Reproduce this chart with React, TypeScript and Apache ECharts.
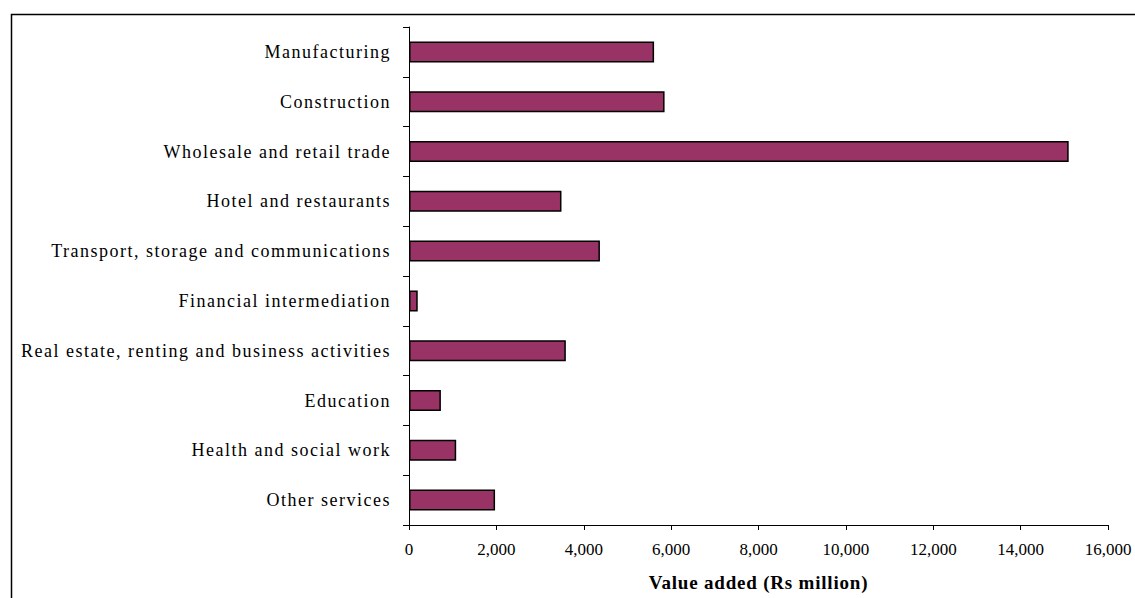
import React, { useEffect, useRef } from "react";
import * as echarts from "echarts";

// Value added by industry, Rs million
const categories = [
  "Manufacturing",
  "Construction",
  "Wholesale and retail trade",
  "Hotel and restaurants",
  "Transport, storage and communications",
  "Financial intermediation",
  "Real estate, renting and business activities",
  "Education",
  "Health and social work",
  "Other services",
];
const valueAdded = [5610, 5850, 15100, 3490, 4370, 200, 3590, 730, 1080, 1970];
const axisMin = 0;
const axisMax = 16000;
const axisStep = 2000;
const axisTitle = "Value added (Rs million)";

const SERIF = '"Liberation Serif", "Times New Roman", serif';

// Wider tracking for the industry names and the axis title
const chartCss = `
.va-chart text[text-anchor="end"] { letter-spacing: 1.5px; }
.va-chart text[style*="bold"] { letter-spacing: 0.8px; }
`;

export default function App() {
  const ref = useRef<HTMLDivElement>(null);

  useEffect(() => {
    if (!ref.current) return;
    const chart = echarts.init(ref.current, undefined, { renderer: "svg" });
    chart.setOption({
      animation: false,
      backgroundColor: "#ffffff",
      textStyle: { fontFamily: SERIF, color: "#000" },
      grid: { left: 409, right: 27, top: 27, bottom: 73, containLabel: false },
      xAxis: {
        type: "value",
        min: axisMin,
        max: axisMax,
        interval: axisStep,
        name: axisTitle,
        nameLocation: "middle",
        nameGap: 48,
        nameTextStyle: { fontFamily: SERIF, fontSize: 19, fontWeight: "bold", color: "#000" },
        axisLine: { show: true, lineStyle: { color: "#000", width: 1 } },
        axisTick: { show: true, length: 5, inside: false, lineStyle: { color: "#000" } },
        splitLine: { show: false },
        axisLabel: {
          fontFamily: SERIF,
          fontSize: 17,
          color: "#000",
          margin: 16,
          formatter: (v: number) => v.toLocaleString("en-US"),
        },
      },
      yAxis: {
        type: "category",
        data: categories,
        inverse: true,
        axisLine: { show: true, lineStyle: { color: "#000", width: 1 } },
        axisTick: { show: true, length: 6, inside: false, lineStyle: { color: "#000" } },
        splitLine: { show: false },
        axisLabel: { fontFamily: SERIF, fontSize: 18, color: "#000", margin: 18 },
      },
      series: [
        {
          type: "bar",
          data: valueAdded,
          barWidth: 21,
          itemStyle: { color: "#993366", borderColor: "#000", borderWidth: 1.5 },
        },
      ],
      graphic: [
        {
          type: "rect",
          left: 9,
          top: 12,
          shape: { x: 0, y: 0, width: 1200, height: 700 },
          style: { fill: "none", stroke: "#000", lineWidth: 1.5 },
          silent: true,
        },
      ],
    });
    return () => chart.dispose();
  }, []);

  return (
    <>
      <style>{chartCss}</style>
      <div
        ref={ref}
        className="va-chart"
        style={{ position: "fixed", left: 0, top: 0, width: 1135, height: 598, background: "#fff" }}
      />
    </>
  );
}
